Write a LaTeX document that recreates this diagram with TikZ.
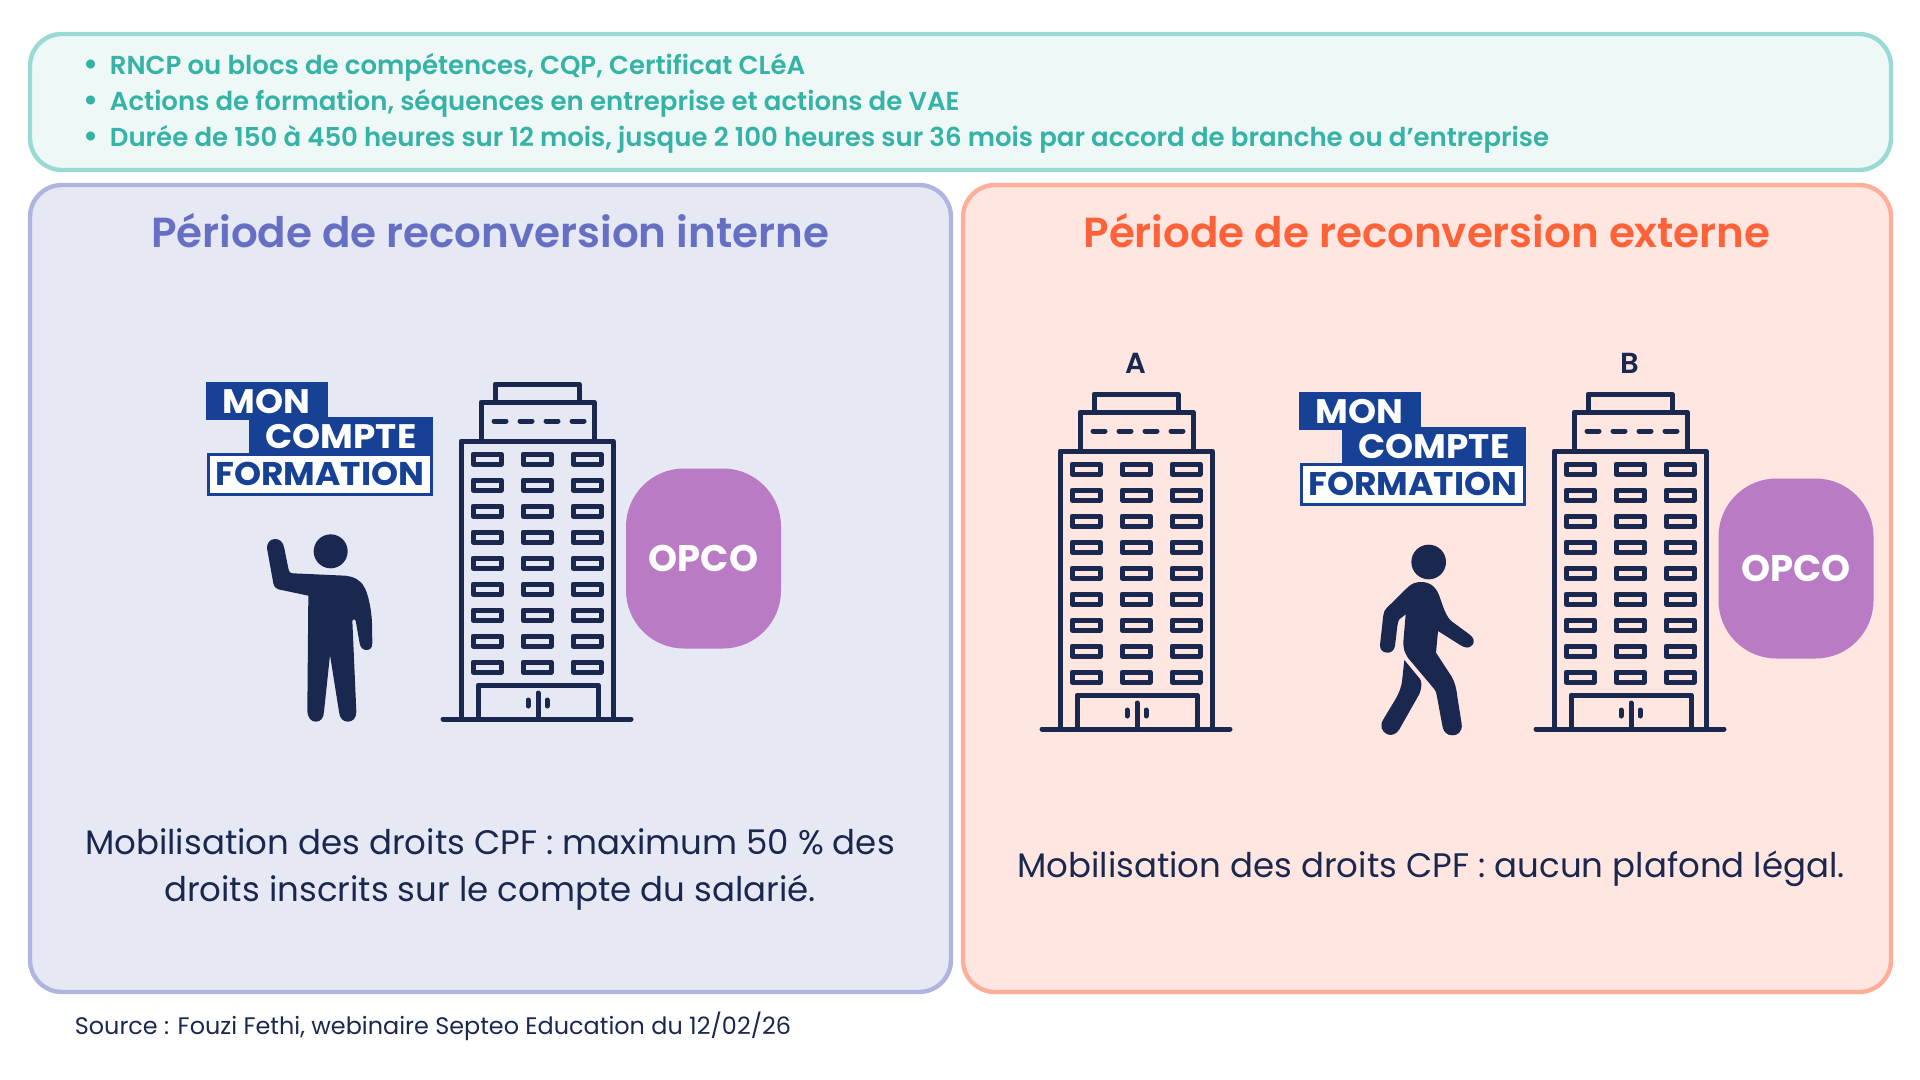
\documentclass[tikz,border=0pt]{standalone}
\usepackage{fontspec}
\setmainfont{Poppins}
\newfontfamily\semifont{Poppins SemiBold}
\newfontfamily\logofont[FakeStretch=1.05]{Poppins Bold}
\usetikzlibrary{positioning}
\definecolor{navy_c}{HTML}{1A2850}
\definecolor{logo_c}{HTML}{164194}
\definecolor{opco_c}{HTML}{B97CC4}
\definecolor{teal_t}{HTML}{35B3A7}
\definecolor{teal_b}{HTML}{9ADAD4}
\definecolor{teal_f}{HTML}{EEF8F7}
\definecolor{int_t}{HTML}{6570C4}
\definecolor{int_b}{HTML}{B0B5E0}
\definecolor{int_f}{HTML}{E6E8F4}
\definecolor{ext_t}{HTML}{FF6238}
\definecolor{ext_b}{HTML}{FFAE99}
\definecolor{ext_f}{HTML}{FFE6E1}
\tikzset{
  treenode/.style = {align=center, inner sep=0pt, text centered},
  title_n/.style = {treenode, font=\semifont\fontsize{21}{26}\selectfont},
  list_n/.style = {inner sep=0pt, anchor=base west, text=teal_t, font=\semifont\fontsize{13}{16}\selectfont},
  body_n/.style = {treenode, text=navy_c, font=\fontsize{17}{23.5}\selectfont},
  letter_n/.style = {treenode, text=navy_c, font=\semifont\fontsize{14.5}{16}\selectfont},
  opco_n/.style = {treenode, fill=opco_c, text=white, minimum width=77.5pt, minimum height=90pt,
    rounded corners=29pt, font=\bfseries\fontsize{18.5}{20}\selectfont},
  logo_n/.style = {treenode, font=\logofont\fontsize{17}{18}\selectfont},
  icon_l/.style = {draw=navy_c, line width=2.5pt, line join=round, line cap=round},
  panel_b/.style = {line width=2.2pt, rounded corners=16pt}
}
% immeuble, trace en pixels
\newcommand{\tower}[1]{
  \begin{scope}[shift={#1}]
    \draw[icon_l] (495,402) -- (495,384) -- (579,384) -- (579,402);
    \draw[icon_l] (481,441) -- (481,402) -- (594,402) -- (594,441);
    \draw[icon_l] (461,719) -- (461,441) -- (613,441) -- (613,719);
    \draw[icon_l] (443,719) -- (631,719);
    \draw[icon_l] (478,719) -- (478,685) -- (598,685) -- (598,719);
    \draw[icon_l] (538,693) -- (538,719);
    \draw[icon_l] (528,700) -- (528,706);
    \draw[icon_l] (547,700) -- (547,706);
    \foreach \dx in {494,520,546,572}
      \draw[icon_l] (\dx,421) -- ++(12,0);
    \foreach \wx in {487,537,587}
      \foreach \wy in {0,...,8}
        \draw[icon_l] (\wx-14,454+26*\wy) rectangle (\wx+14,464+26*\wy);
  \end{scope}
}
% logo mon compte formation
\newcommand{\logomcf}[2]{
  \begin{scope}[shift={#1}]
    \fill[logo_c] (206,382) rectangle (328,420);
    \fill[logo_c] (249,417) rectangle (433,454);
    \draw[logo_c, line width=1.5pt, fill=white] (208,454) rectangle (431,494);
    \node[logo_n, text=white] (#2_mon) at (266.5,402) {MON};
    \node[logo_n, text=white] (#2_compte) at (341,437) {COMPTE};
    \node[logo_n, text=logo_c, font=\logofont\fontsize{16.4}{18}\selectfont] (#2_form) at (320,474) {FORMATION};
  \end{scope}
}
\begin{document}
\begin{tikzpicture}[x=0.5pt,y=-0.5pt]
  \useasboundingbox (0,0) rectangle (1920,1080);
  % cadres
  \draw[panel_b, draw=teal_b, fill=teal_f] (30,34) rectangle (1891,170);
  \draw[panel_b, draw=int_b, fill=int_f] (30,185) rectangle (951,992);
  \draw[panel_b, draw=ext_b, fill=ext_f] (963,185) rectangle (1891,992);
  % liste
  \foreach \ly/\lt [count=\li] in {
      75/{RNCP ou blocs de compétences, CQP, Certificat CLéA},
      111/{Actions de formation, séquences en entreprise et actions de VAE},
      147/{Durée de 150 à 450 heures sur 12 mois, jusque 2 100 heures sur 36 mois par accord de branche ou d’entreprise}} {
    \node[list_n, font=\bfseries\fontsize{15}{16}\selectfont] (bul\li) at (83,\ly) {•};
    \node[list_n] (item\li) at (109.5,\ly) {\lt};
  }
  \node[title_n, text=int_t] (title_int) at (490,231) {Période de reconversion interne};
  \node[title_n, text=ext_t] (title_ext) at (1427,231) {Période de reconversion externe};
  \node[body_n] (text_int) at (490,869) {Mobilisation des droits CPF : maximum 50 \% des\\droits inscrits sur le compte du salarié.};
  \node[body_n] (text_ext) at (1431,869) {Mobilisation des droits CPF : aucun plafond légal.};
  \node[inner sep=0pt, anchor=base west, text=navy_c, font=\fontsize{11.95}{15}\selectfont] (source) at (74.5,1034) {Source : Fouzi Fethi, webinaire Septeo Education du 12/02/26};
  \node[letter_n] (lab_a) at (1136,363) {A};
  \node[letter_n] (lab_b) at (1630,363) {B};
  \tower{(0,0)}
  \tower{(599,10)}
  \tower{(1093,10)}
  \logomcf{(0,0)}{int}
  \logomcf{(1093,10)}{ext}
  \node[opco_n] (opco_int) at (703.5,558.5) {OPCO};
  \node[opco_n] (opco_ext) at (1796,568.5) {OPCO};
  % personnage debout
  \begin{scope}[shift={(250,520)},x=0.16667pt,y=-0.16667pt]
    \fill[navy_c] (242,94) circle (51);
    \fill[navy_c] (75,57) .. controls (60,57) and (50,70) .. (51,85) -- (70,190)
      .. controls (72,200) and (78,206) .. (85,208) -- (175,227) -- (172,570)
      .. controls (172,595) and (185,605) .. (197,605) .. controls (212,605) and (221,595) .. (222,575)
      -- (240,405) -- (267,575) .. controls (268,595) and (280,605) .. (293,605)
      .. controls (308,605) and (319,595) .. (319,575) -- (307,302)
      .. controls (308,296) and (315,296) .. (317,302) -- (329,370)
      .. controls (332,385) and (340,390) .. (350,390) .. controls (360,390) and (367,383) .. (367,370)
      -- (366,310) .. controls (364,260) and (352,215) .. (342,200)
      .. controls (330,178) and (310,170) .. (285,167) -- (130,160)
      .. controls (120,160) and (117,155) .. (115,145) -- (103,85)
      .. controls (100,65) and (88,57) .. (75,57) -- cycle;
  \end{scope}
  % personnage qui marche
  \begin{scope}[shift={(1340,520)},x=0.16667pt,y=-0.16667pt]
    \fill[navy_c] (266,126) circle (52);
    \fill[navy_c] (243,186) .. controls (270,186) and (288,200) .. (298,228)
      .. controls (310,262) and (318,290) .. (335,304) -- (388,343)
      .. controls (402,352) and (405,368) .. (397,375) .. controls (388,386) and (375,384) .. (362,376)
      -- (294,333) -- (288,398) -- (335,470) .. controls (345,487) and (350,510) .. (352,530)
      -- (365,612) .. controls (368,635) and (352,647) .. (337,646) .. controls (322,646) and (311,636) .. (308,622)
      -- (290,525) .. controls (288,510) and (280,505) .. (270,492) -- (205,415)
      .. controls (192,395) and (190,385) .. (190,365) -- (197,283) -- (178,298)
      .. controls (175,302) and (173,310) .. (172,318) -- (165,378)
      .. controls (162,392) and (152,399) .. (142,398) .. controls (128,398) and (119,388) .. (120,375)
      -- (130,285) .. controls (131,275) and (135,268) .. (142,262) -- (205,200)
      .. controls (215,191) and (228,186) .. (243,186) -- cycle;
    \fill[navy_c] (193,420) -- (240,477) .. controls (245,485) and (247,500) .. (238,522)
      -- (178,628) .. controls (170,642) and (155,648) .. (142,643)
      .. controls (125,635) and (118,618) .. (130,598) -- (165,540)
      .. controls (178,518) and (185,500) .. (187,475) -- cycle;
  \end{scope}
\end{tikzpicture}
\end{document}
